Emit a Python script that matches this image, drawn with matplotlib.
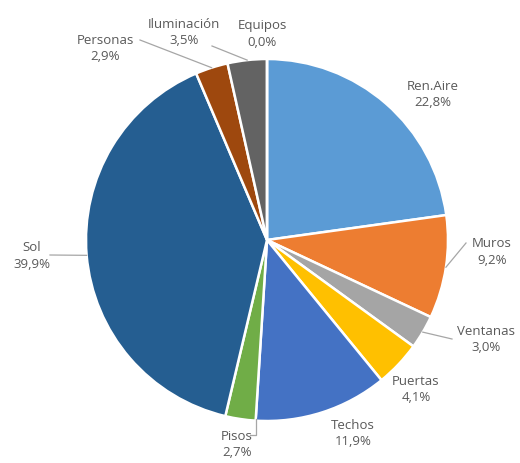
import matplotlib.pyplot as plt
import numpy as np

labels = ['Ren.Aire', 'Muros', 'Ventanas', 'Puertas', 'Techos', 'Pisos',
          'Sol', 'Personas', 'Iluminación', 'Equipos']
values = [22.8, 9.2, 3.0, 4.1, 11.9, 2.7, 39.9, 2.9, 3.5, 0.0]
colors = ['#5B9BD5', '#ED7D31', '#A5A5A5', '#FFC000', '#4472C4', '#70AD47',
          '#255E91', '#9E480E', '#636363', '#997300']

# label text positions (pixels, from top-left) and leader line end points
label_pos = [(433, 94), (492, 252), (486, 340), (416, 390), (353, 434),
             (237, 445), (32, 256), (105, 49), (184, 32), (262, 34)]
leader_end = [None, (466, 244), (452, 340), None, None,
              (256, 436), (50, 256), (140, 41), (212, 47), None]

W, H = 520, 464
fig = plt.figure(figsize=(W / 100, H / 100), dpi=100)
ax = fig.add_axes([0, 0, 1, 1])

cx, cy, r = 267, H - 241, 181
wedges, _ = ax.pie(values, colors=colors, startangle=90, counterclock=False,
                   radius=r, center=(cx, cy), frame=True,
                   wedgeprops=dict(edgecolor='white', linewidth=1.8))
ax.set_xlim(0, W)
ax.set_ylim(0, H)
ax.axis('off')

txt_color = '#595959'
total = sum(values)
cum = 0
for i, (lab, v) in enumerate(zip(labels, values)):
    mid = 90 - (cum + v / 2) / total * 360
    cum += v
    tx, ty = label_pos[i]
    pct = f'{v:.1f}%'.replace('.', ',')
    ax.text(tx, H - ty, f'{lab}\n{pct}',
            ha='center', va='center', fontsize=9.5, color=txt_color,
            family='Open Sans', linespacing=1.3)
    if leader_end[i] is not None:
        a = np.deg2rad(mid)
        px, py = cx + r * np.cos(a), cy + r * np.sin(a)
        ex, ey = leader_end[i]
        ey = H - ey
        if lab == 'Pisos':
            ax.plot([ex - 6, ex, ex], [ey, ey, py], color='#A6A6A6', lw=0.9)
        else:
            ax.plot([px, ex], [py, ey], color='#A6A6A6', lw=0.9)

fig.savefig('out.png', dpi=100)
